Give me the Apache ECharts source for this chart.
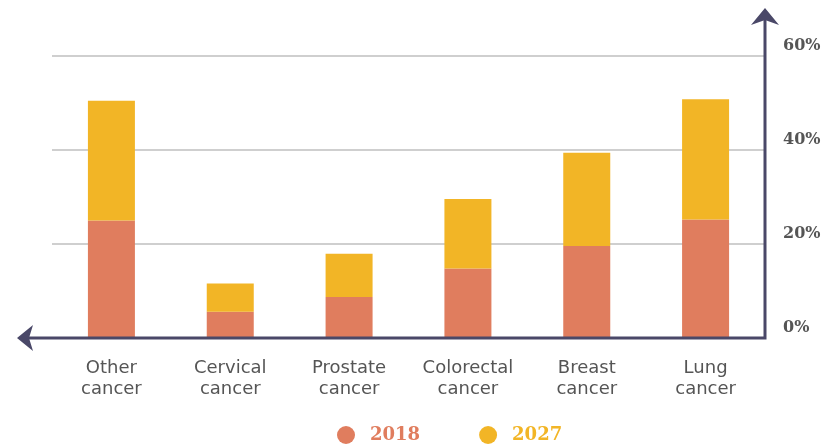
<!DOCTYPE html>
<html>
<head>
<meta charset="utf-8">
<title>Cancer share 2018 vs 2027</title>
<script src="https://cdn.jsdelivr.net/npm/echarts@6/dist/echarts.min.js"></script>
<style>
  html, body { margin: 0; padding: 0; background: #ffffff; }
  #chart { width: 826px; height: 445px; }
</style>
</head>
<body>
<div id="chart"></div>
<script>
// Cancer types along the horizontal axis
const categories = ['Other\ncancer', 'Cervical\ncancer', 'Prostate\ncancer', 'Colorectal\ncancer', 'Breast\ncancer', 'Lung\ncancer'];
// Share in 2018 (%)
const share2018 = [25, 5.6, 8.7, 14.8, 19.6, 25.2];
// Additional share stacked on top for 2027 (%)
const added2027 = [25.5, 6, 9.2, 14.8, 19.8, 25.6];
// Value axis ticks
const yTicks = [0, 20, 40, 60];

const COLOR_2018 = '#E07D5E';
const COLOR_2027 = '#F2B526';
const AXIS_COLOR = '#4A4868';
const TEXT_GRAY = '#555555';

const chart = echarts.init(document.getElementById('chart'));

const gridLeft = 52, gridRight = 61, gridTop = 56, gridBottom = 107;

chart.setOption({
  animation: false,
  grid: { left: gridLeft, right: gridRight, top: gridTop, bottom: gridBottom },
  legend: {
    top: 421,
    left: 332,
    icon: 'circle',
    itemWidth: 18,
    itemHeight: 18,
    itemGap: 59,
    textStyle: { fontFamily: 'DejaVu Serif', fontWeight: 'bold', fontSize: 18, padding: [0, 0, 0, 10] },
    data: [
      { name: '2018', textStyle: { color: COLOR_2018 } },
      { name: '2027', textStyle: { color: COLOR_2027 } }
    ]
  },
  xAxis: {
    type: 'category',
    data: categories,
    axisLine: { show: false },
    axisTick: { show: false },
    axisLabel: {
      margin: 20,
      color: TEXT_GRAY,
      fontFamily: 'DejaVu Sans',
      fontSize: 18,
      lineHeight: 21
    }
  },
  yAxis: {
    type: 'value',
    position: 'right',
    min: yTicks[0],
    max: yTicks[yTicks.length - 1],
    interval: 20,
    axisLine: { show: false },
    axisTick: { show: false },
    splitLine: { lineStyle: { color: '#CFCFCF', width: 2 } },
    axisLabel: {
      margin: 18,
      color: TEXT_GRAY,
      fontFamily: 'DejaVu Serif',
      fontWeight: 'bold',
      fontSize: 16,
      verticalAlign: 'bottom',
      padding: [0, 0, 2, 0],
      formatter: '{value}%'
    }
  },
  series: [
    {
      name: '2018',
      type: 'bar',
      stack: 'share',
      barWidth: 47,
      itemStyle: { color: COLOR_2018 },
      data: share2018
    },
    {
      name: '2027',
      type: 'bar',
      stack: 'share',
      barWidth: 47,
      itemStyle: { color: COLOR_2027 },
      data: added2027
    }
  ]
});

// Axis lines with arrowheads: horizontal one pointing left, vertical one pointing up
function drawAxes() {
  const w = chart.getWidth();
  const xRight = w - gridRight;
  const yBase = chart.convertToPixel({ yAxisIndex: 0 }, 0);
  const lineStyle = { stroke: AXIS_COLOR, lineWidth: 3 };
  const yTopTip = 8;
  const xLeftTip = 17;
  chart.setOption({
    graphic: [
      {
        type: 'polyline',
        shape: { points: [[xLeftTip + 10, yBase], [xRight, yBase], [xRight, yTopTip + 10]] },
        style: Object.assign({ fill: null }, lineStyle),
        z: 100
      },
      {
        type: 'polygon',
        shape: { points: [[xRight, yTopTip], [xRight + 14, yTopTip + 17], [xRight, yTopTip + 12], [xRight - 14, yTopTip + 17]] },
        style: { fill: AXIS_COLOR },
        z: 101
      },
      {
        type: 'polygon',
        shape: { points: [[xLeftTip, yBase], [xLeftTip + 16, yBase - 13], [xLeftTip + 12, yBase], [xLeftTip + 16, yBase + 13]] },
        style: { fill: AXIS_COLOR },
        z: 101
      }
    ]
  });
}
drawAxes();
</script>
</body>
</html>
